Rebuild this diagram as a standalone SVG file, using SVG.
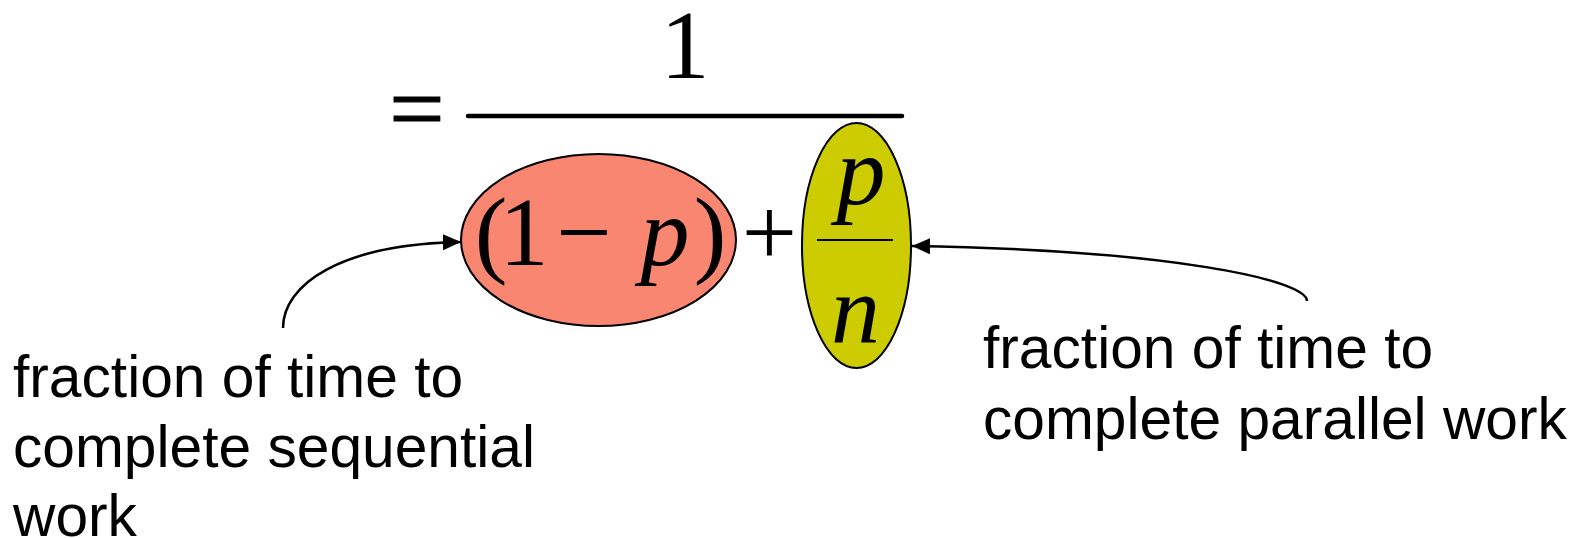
<svg xmlns="http://www.w3.org/2000/svg" width="1585" height="538" viewBox="0 0 1585 538">
<style>
.m{font-family:"Liberation Serif","Times New Roman",serif;font-size:98px;fill:#000;text-anchor:middle}
.i{font-style:italic}
.lbl{font-family:"Liberation Sans",Arial,sans-serif;font-size:58.7px;fill:#000}
.conn{fill:none;stroke:#000;stroke-width:2.5}
.ell{stroke:#000;stroke-width:2}
</style>
<defs>
<marker id="ah" markerUnits="userSpaceOnUse" markerWidth="20" markerHeight="18" refX="18" refY="8" orient="auto">
<path d="M0,0 L18,8 L0,16 z" fill="#000"/>
</marker>
</defs>
<rect width="1585" height="538" fill="#fff"/>
<g id="equation">
<text class="m" x="417" y="141" style="stroke:#000;stroke-width:1.2">=</text>
<text class="m" x="685" y="78">1</text>
<line x1="468" y1="116" x2="902" y2="116" stroke="#000" stroke-width="4.5" stroke-linecap="round"/>
<text class="m" x="769.5" y="265">+</text>
</g>
<g id="sequential">
<ellipse class="ell" cx="598.5" cy="240" rx="137.5" ry="86" fill="#F88671"/>
<text class="m" x="491" y="265">(</text>
<text class="m" x="524" y="265">1</text>
<text class="m" x="584" y="265">−</text>
<text class="m i" x="665" y="265">p</text>
<text class="m" x="710" y="265">)</text>
</g>
<g id="parallel">
<ellipse class="ell" cx="856.5" cy="245.5" rx="54.5" ry="122.5" fill="#CCCC00"/>
<text class="m i" x="861" y="204">p</text>
<line x1="817" y1="240" x2="893" y2="240" stroke="#000" stroke-width="2"/>
<text class="m i" x="855.5" y="342">n</text>
</g>
<g id="label-sequential">
<text class="lbl" x="13" y="397">fraction of time to</text>
<text class="lbl" x="13" y="467">complete sequential</text>
<text class="lbl" x="13" y="536">work</text>
</g>
<g id="label-parallel">
<text class="lbl" x="983" y="368">fraction of time to</text>
<text class="lbl" x="983" y="439">complete parallel work</text>
</g>
<g id="connectors">
<path class="conn" d="M283,328 C283,285 340,244 461,242" marker-end="url(#ah)"/>
<path class="conn" d="M1307,301 C1307,280 1170,250 912,246" marker-end="url(#ah)"/>
</g>
</svg>
